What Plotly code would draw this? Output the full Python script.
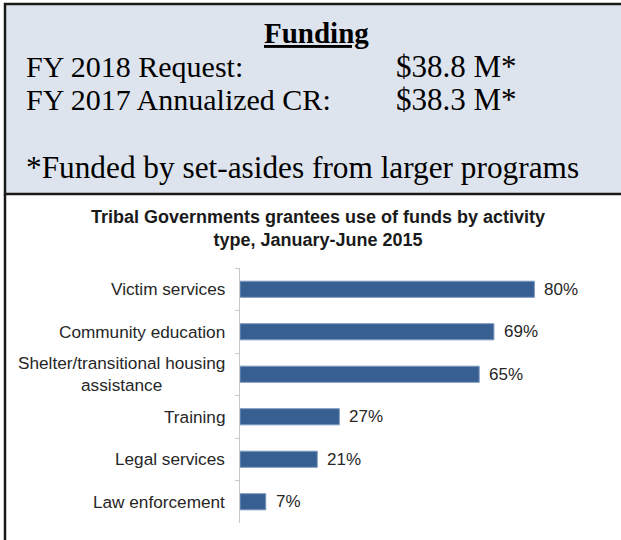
import plotly.graph_objects as go

# ---- data ----
categories = ["Victim services", "Community education",
              "Shelter/transitional housing<br>assistance",
              "Training", "Legal services", "Law enforcement"]
values = [80, 69, 65, 27, 21, 7]
value_labels = ["80%", "69%", "65%", "27%", "21%", "7%"]

funding_rows = ["FY 2018 Request:", "FY 2017 Annualized CR:"]
funding_amounts = ["$38.8 M*", "$38.3 M*"]
funding_note = "*Funded by set-asides from larger programs"
chart_title = "Tribal Governments grantees use of funds by activity<br>type, January-June 2015"

W, H = 621, 540
def px(x):
    return x / W
def py(y):
    return 1 - y / H

SERIF = "Liberation Serif, Times New Roman, serif"
SANS = "Liberation Sans, Arial, sans-serif"

fig = go.Figure()
fig.add_trace(go.Bar(
    x=values, y=categories, orientation="h",
    marker=dict(color="#385f92", line=dict(color="#7d99bf", width=1)),
    width=0.38, hoverinfo="skip",
))

annotations = []
# category labels
for c in categories:
    annotations.append(dict(x=0, y=c, xref="x", yref="y", text=c, showarrow=False,
                            xanchor="right", yanchor="middle", align="center", xshift=-13,
                            font=dict(family=SANS, size=17.2, color="#262626")))
# value labels
for v, lab, c in zip(values, value_labels, categories):
    annotations.append(dict(x=v, y=c, xref="x", yref="y", text=lab, showarrow=False,
                            xanchor="left", yanchor="middle", xshift=8,
                            font=dict(family=SANS, size=17, color="#262626")))
# chart title
annotations.append(dict(x=px(318), y=py(228), xref="paper", yref="paper",
                        text="<b>" + chart_title + "</b>", showarrow=False,
                        xanchor="center", yanchor="middle", align="center",
                        font=dict(family=SANS, size=18, color="#1a1a1a")))
# funding box text
annotations.append(dict(x=px(316), y=py(33), xref="paper", yref="paper", text="<b><u>Funding</u></b>",
                        showarrow=False, xanchor="center", yanchor="middle",
                        font=dict(family=SERIF, size=29, color="#000000")))
for i, (r, a) in enumerate(zip(funding_rows, funding_amounts)):
    yy = 66 + i * 34
    annotations.append(dict(x=px(24), y=py(yy), xref="paper", yref="paper", text=r, showarrow=False,
                            xanchor="left", yanchor="middle",
                            font=dict(family=SERIF, size=30, color="#000000")))
    annotations.append(dict(x=px(394), y=py(yy), xref="paper", yref="paper", text=a, showarrow=False,
                            xanchor="left", yanchor="middle",
                            font=dict(family=SERIF, size=31, color="#000000")))
annotations.append(dict(x=px(24), y=py(167), xref="paper", yref="paper", text=funding_note, showarrow=False,
                        xanchor="left", yanchor="middle",
                        font=dict(family=SERIF, size=31.3, color="#000000")))

shapes = [
    # top funding box
    dict(type="rect", xref="paper", yref="paper", x0=px(5), x1=px(624), y0=py(194), y1=py(4),
         fillcolor="#dee4ed", line=dict(color="#1a1a1a", width=2.5), layer="below"),
    # left border of chart area
    dict(type="line", xref="paper", yref="paper", x0=px(5), x1=px(5), y0=py(194), y1=py(545),
         line=dict(color="#1a1a1a", width=2.5)),
]

fig.update_layout(
    width=W, height=H,
    margin=dict(l=0, r=0, t=0, b=0),
    paper_bgcolor="white", plot_bgcolor="white",
    showlegend=False,
    annotations=annotations,
    shapes=shapes,
    xaxis=dict(domain=[px(240), px(608)], range=[0, 100], visible=False, fixedrange=True),
    yaxis=dict(domain=[py(523), py(268)], autorange="reversed", showticklabels=False,
               showline=True, linecolor="#c8c8c8", linewidth=1,
               ticks="outside", tickson="boundaries", ticklen=4, tickcolor="#c8c8c8",
               showgrid=False, zeroline=False, fixedrange=True),
    bargap=0.62,
)

fig.write_html("out.html", config={"displayModeBar": False},
               post_script="document.body.style.margin='0';document.body.style.overflow='hidden';")
